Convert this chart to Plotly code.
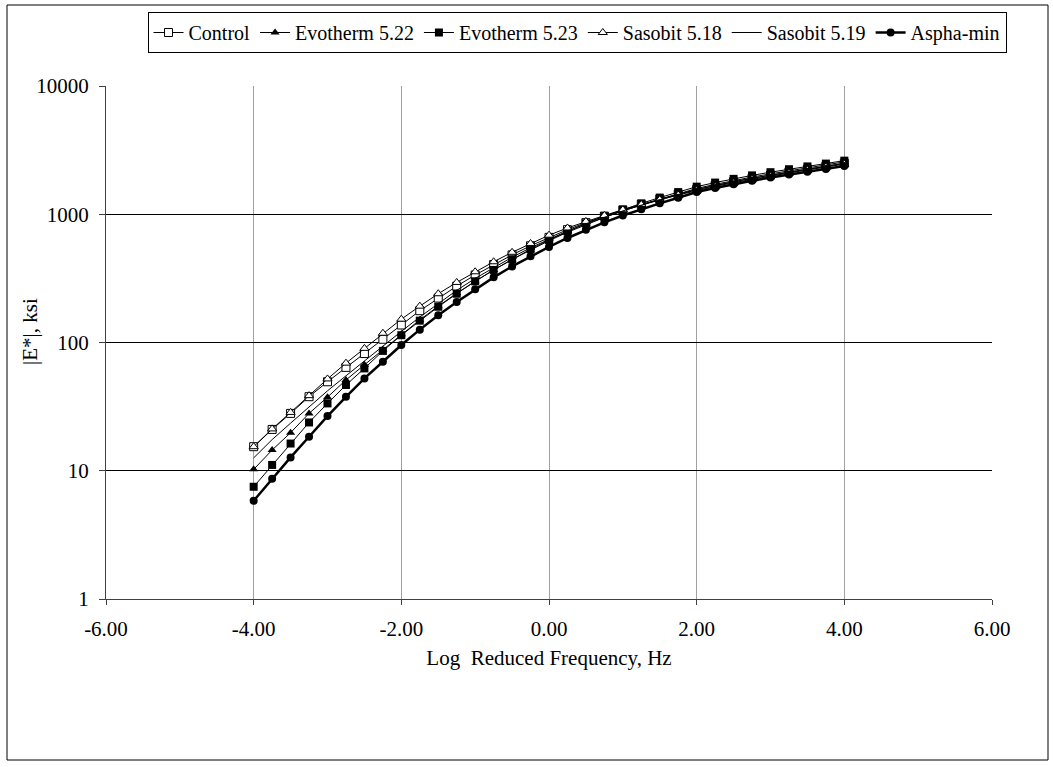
import plotly.graph_objects as go

log_freq = [-4.0, -3.75, -3.5, -3.25, -3.0, -2.75, -2.5, -2.25, -2.0, -1.75, -1.5, -1.25,
            -1.0, -0.75, -0.5, -0.25, 0.0, 0.25, 0.5, 0.75, 1.0, 1.25, 1.5, 1.75,
            2.0, 2.25, 2.5, 2.75, 3.0, 3.25, 3.5, 3.75, 4.0]

control = [15.4, 21.0, 28.0, 37.8, 49.4, 64, 82, 106, 137, 177, 222, 275,
           336, 405, 482, 568, 660, 758, 860, 967, 1078, 1193, 1311, 1434,
           1560, 1679, 1795, 1910, 2023, 2138, 2254, 2371, 2500]
evotherm_522 = [10.25, 14.5, 19.8, 28.0, 37.5, 51, 67, 88, 116, 150, 192, 242,
                300, 368, 444, 528, 622, 724, 832, 944, 1062, 1183, 1309, 1442,
                1589, 1710, 1832, 1950, 2065, 2183, 2301, 2427, 2559]
evotherm_523 = [7.5, 11.1, 16.3, 23.8, 33.5, 46.6, 62.8, 86, 114, 148, 190, 240,
                300, 368, 446, 534, 630, 736, 849, 966, 1089, 1216, 1349, 1489,
                1641, 1766, 1888, 2009, 2128, 2244, 2360, 2483, 2618]
sasobit_518 = [15.4, 21.2, 28.5, 38.5, 52, 69, 90, 118, 152, 192, 240, 294,
               356, 426, 505, 592, 687, 782, 879, 979, 1084, 1191, 1300, 1413,
               1531, 1648, 1762, 1875, 1986, 2099, 2213, 2333, 2460]
sasobit_519 = [12.6, 17.5, 23.5, 31.5, 42, 55, 72, 94, 122, 158, 202, 255,
               316, 385, 462, 548, 640, 740, 843, 951, 1062, 1178, 1297, 1422,
               1556, 1675, 1791, 1905, 2018, 2133, 2249, 2366, 2489]
aspha_min = [5.84, 8.66, 12.7, 18.4, 26.7, 37.7, 52.5, 70.8, 95.5, 126, 163, 207,
             260, 322, 392, 470, 556, 653, 757, 865, 977, 1094, 1216, 1346,
             1489, 1603, 1714, 1824, 1932, 2037, 2143, 2254, 2382]

x_tickvals = [-6, -4, -2, 0, 2, 4, 6]
x_ticktext = ["-6.00", "-4.00", "-2.00", "0.00", "2.00", "4.00", "6.00"]
y_tickvals = [1, 10, 100, 1000, 10000]
y_ticktext = ["1", "10", "100", "1000", "10000"]

FONT = "'Times New Roman', 'Liberation Serif', 'DejaVu Serif', serif"

series = [
    ("Control", control, dict(symbol="square", size=8, color="white", line=dict(color="black", width=1)), 1),
    ("Evotherm 5.22", evotherm_522, dict(symbol="triangle-up", size=8, color="black", line=dict(color="black", width=0)), 1),
    ("Evotherm 5.23", evotherm_523, dict(symbol="square", size=8, color="black", line=dict(color="black", width=0)), 1),
    ("Sasobit 5.18", sasobit_518, dict(symbol="triangle-up", size=8, color="white", line=dict(color="black", width=1)), 1),
    ("Sasobit 5.19", sasobit_519, None, 1),
    ("Aspha-min", aspha_min, dict(symbol="circle", size=8, color="black", line=dict(color="black", width=0)), 2.5),
]

fig = go.Figure()
for name, vals, marker, lw in series:
    if marker is None:
        fig.add_trace(go.Scatter(x=log_freq, y=vals, name=name, mode="lines",
                                 line=dict(color="black", width=lw)))
    else:
        fig.add_trace(go.Scatter(x=log_freq, y=vals, name=name, mode="lines+markers",
                                 line=dict(color="black", width=lw), marker=marker))

L, R, T, B = 106, 992, 86, 599
W, H = 1053, 767
pw, ph = R - L, B - T

def px(xp):
    return (xp - L) / pw

def py(yp):
    return (B - yp) / ph

fig.add_shape(type="rect", xref="paper", yref="paper",
              x0=px(7), x1=px(1048), y0=py(760), y1=py(5),
              line=dict(color="black", width=1), fillcolor="rgba(0,0,0,0)", layer="below")

fig.add_annotation(text="|E*|, ksi", xref="paper", yref="paper",
                   x=px(30), y=py(332), xanchor="center", yanchor="middle",
                   textangle=-90, showarrow=False,
                   font=dict(family=FONT, size=21, color="black"))

fig.update_layout(
    width=W, height=H,
    margin=dict(l=L, r=W - R, t=T, b=H - B, pad=0),
    paper_bgcolor="white", plot_bgcolor="white",
    font=dict(family=FONT, size=21, color="black"),
    showlegend=True,
    legend=dict(orientation="h", x=px(577), xanchor="center", y=py(12), yanchor="top",
                bordercolor="black", borderwidth=1, bgcolor="white",
                font=dict(family=FONT, size=20, color="black"),
                itemwidth=30, tracegroupgap=0),
    xaxis=dict(range=[-6, 6], tickvals=x_tickvals, ticktext=x_ticktext,
               showgrid=True, gridcolor="#a0a0a0", gridwidth=1,
               showline=True, linecolor="#404040", linewidth=1,
               ticks="outside", ticklen=5, tickcolor="#404040",
               zeroline=False, mirror=False, ticklabelstandoff=6,
               tickfont=dict(family=FONT, size=21),
               title=dict(text="Log  Reduced Frequency, Hz", standoff=10,
                          font=dict(family=FONT, size=21))),
    yaxis=dict(type="log", range=[0, 4], tickvals=y_tickvals, ticktext=y_ticktext,
               showgrid=True, gridcolor="black", gridwidth=1,
               showline=True, linecolor="#404040", linewidth=1,
               ticks="outside", ticklen=6, tickcolor="#404040",
               zeroline=False, ticklabelstandoff=6,
               tickfont=dict(family=FONT, size=21)),
)

fig.write_html("out.html")
